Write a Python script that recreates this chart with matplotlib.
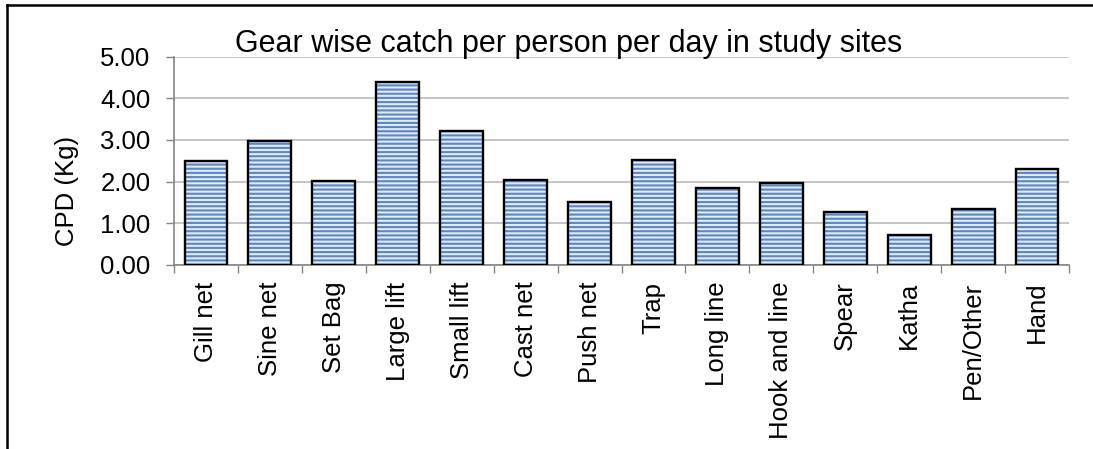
import matplotlib
matplotlib.use("Agg")
import matplotlib.pyplot as plt
from matplotlib.lines import Line2D
import numpy as np

plt.rcParams['font.family'] = ['Liberation Sans', 'DejaVu Sans']
plt.rcParams['hatch.linewidth'] = 1.5

gears = ["Gill net", "Sine net", "Set Bag", "Large lift", "Small lift", "Cast net",
         "Push net", "Trap", "Long line", "Hook and line", "Spear", "Katha",
         "Pen/Other", "Hand"]
cpd = [2.49, 2.97, 2.01, 4.38, 3.21, 2.05, 1.50, 2.52, 1.85, 1.97, 1.26, 0.72, 1.34, 2.31]
yticks = [0.0, 1.0, 2.0, 3.0, 4.0, 5.0]

W, H = 1093, 449
fig = plt.figure(figsize=(W / 100, H / 100), dpi=100)
ax = fig.add_axes([174 / W, 1 - 265 / H, (1069 - 174) / W, (265 - 56.5) / H])

x = np.arange(len(gears))
# striped fill (hatch takes the edge colour), then a black outline on top
ax.bar(x, cpd, width=0.67, facecolor='#e2eaf5', edgecolor='#5b87c4',
       linewidth=0, hatch='----', zorder=3)
ax.bar(x, cpd, width=0.67, facecolor='none', edgecolor='black',
       linewidth=1.7, zorder=4)

ax.set_xlim(-0.5, len(gears) - 0.5)
ax.set_ylim(0, 5)
ax.set_yticks(yticks)
ax.set_yticklabels([f"{v:.2f}" for v in yticks], fontsize=18.5)
ax.yaxis.grid(True, color='#c0c0c0', linewidth=1.3, zorder=0)
ax.set_axisbelow(True)

ax.set_xticks(x)
ax.set_xticklabels(gears, rotation=90, fontsize=18.5)
ax.tick_params(axis='x', length=0, pad=12)
ax.set_xticks(np.arange(-0.5, len(gears)), minor=True)
ax.tick_params(axis='x', which='minor', length=6, color='#868686', width=1)
ax.tick_params(axis='y', length=6, color='#868686', width=1, pad=11)

for side in ('top', 'right'):
    ax.spines[side].set_visible(False)
for side in ('left', 'bottom'):
    ax.spines[side].set_color('#868686')
    ax.spines[side].set_linewidth(1.2)

fig.text(67 / W, 1 - 191 / H, "CPD (Kg)", rotation=90, ha='center', va='center',
         fontsize=18.5)

fig.text(569 / W, 1 - 52 / H, "Gear wise catch per person per day in study sites",
         ha='center', va='baseline', fontsize=22)

# outer frame: top and left edges
fig.add_artist(Line2D([6.5 / W, 1.0], [1 - 4.5 / H, 1 - 4.5 / H],
                      transform=fig.transFigure, color='black', linewidth=1.8))
fig.add_artist(Line2D([7 / W, 7 / W], [0.0, 1 - 4.5 / H],
                      transform=fig.transFigure, color='black', linewidth=1.8))

fig.savefig("out.png", dpi=100, facecolor='white')
